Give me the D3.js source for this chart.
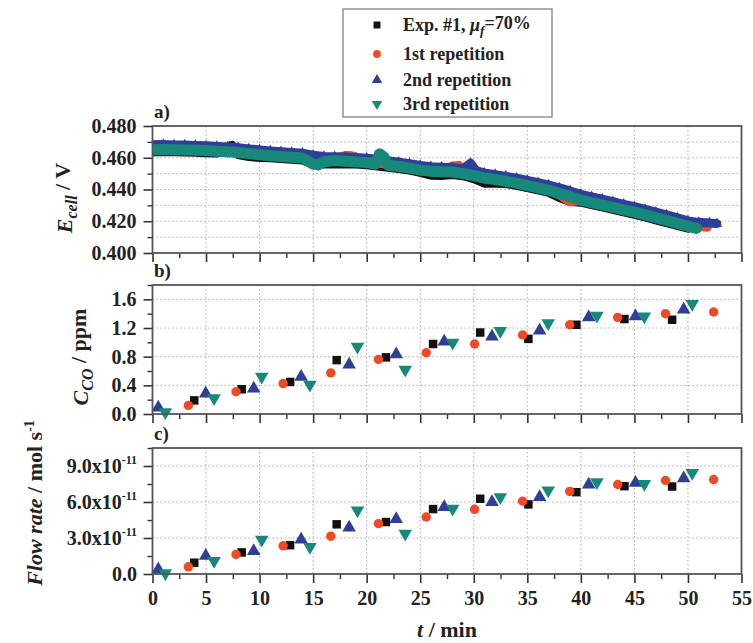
<!DOCTYPE html>
<html>
<head>
<meta charset="utf-8">
<script src="https://cdn.jsdelivr.net/npm/d3@7"></script>
<style>
  body { margin: 0; background: #fff; }
  svg text { font-family: "Liberation Serif", "Times New Roman", serif; font-weight: bold; fill: #222; }
</style>
</head>
<body>
<svg id="chart" width="753" height="643"></svg>
<script>
// ---- Panel a: cell voltage (V) vs time (min) ----
const eExpT  = [0,1,2,3,4,5,6,7,7.4,7.8,8,9,10,11,12,13,14,15,16,17,18,19,20,21,22,23,24,25,26,27,28,29,30,31,32,33,34,35,36,37,38,39,40,41,42,43,44,45,46,47,48,49,50];
const eExpV  = [.4637,.4639,.4638,.4636,.4634,.4632,.4630,.4645,.4678,.4640,.4620,.4608,.4602,.4600,.4595,.4590,.4585,.4560,.4560,.4560,.4562,.4560,.4556,.4548,.4540,.4532,.4522,.4508,.4490,.4488,.4494,.4487,.4468,.4440,.4440,.4438,.4426,.4412,.4397,.4382,.4350,.4325,.4320,.4305,.4290,.4275,.4259,.4244,.4227,.4209,.4192,.4174,.4156];
const eRep1T = [0,1,2,3,4,5,6,7,8,9,10,11,12,13,14,15,16,17,18,18.6,19,20,21,22,23,24,25,26,27,28,28.6,29,30,31,32,33,34,35,36,37,38,39,40,41,42,43,44,45,46,47,48,49,50,51,51.8];
const eRep1V = [.4655,.4656,.4654,.4652,.4650,.4648,.4645,.4641,.4636,.4630,.4623,.4617,.4612,.4607,.4602,.4595,.4590,.4595,.4614,.4612,.4582,.4575,.4566,.4558,.4550,.4540,.4528,.4520,.4518,.4548,.4552,.4510,.4490,.4476,.4465,.4454,.4442,.4428,.4413,.4398,.4365,.4322,.4330,.4318,.4303,.4288,.4273,.4258,.4241,.4224,.4207,.4190,.4175,.4168,.4162];
const eRep2T = [0,1,2,3,4,5,6,7,8,9,10,11,12,13,14,15,16,17,18,19,20,21,22,23,24,25,26,27,28,29,29.7,30.2,31,32,33,34,35,36,37,38,39,40,41,42,43,44,45,46,47,48,49,50,51,52,52.7];
const eRep2V = [.4682,.4683,.4681,.4680,.4677,.4675,.4671,.4668,.4663,.4656,.4649,.4643,.4638,.4633,.4628,.4616,.4608,.4607,.4604,.4601,.4597,.4591,.4582,.4572,.4562,.4551,.4543,.4540,.4537,.4530,.4566,.4520,.4503,.4494,.4483,.4471,.4457,.4443,.4428,.4410,.4391,.4370,.4354,.4339,.4323,.4307,.4292,.4275,.4257,.4240,.4221,.4202,.4193,.4189,.4185];
const eRep3T = [0,1,2,3,4,5,6,7,8,9,10,11,12,13,14,15,15.5,16,17,18,19,20,20.8,21.2,21.6,22,23,24,25,26,27,28,29,30,31,32,33,34,35,36,37,38,39,40,41,42,43,44,45,46,47,48,49,50,50.8];
const eRep3V = [.4650,.4652,.4650,.4649,.4647,.4645,.4641,.4638,.4633,.4626,.4619,.4613,.4608,.4603,.4598,.4560,.4555,.4575,.4583,.4578,.4574,.4570,.4560,.4625,.4605,.4553,.4545,.4535,.4522,.4515,.4512,.4510,.4500,.4487,.4472,.4463,.4452,.4440,.4425,.4410,.4395,.4375,.4355,.4333,.4318,.4303,.4288,.4272,.4257,.4240,.4222,.4205,.4187,.4168,.4155];

// ---- Panels b and c: CO concentration (ppm) and CO flow rate (x1e-11 mol/s) ----
const tExp  = [3.9, 8.33, 12.85, 17.2, 21.8, 26.2, 30.6, 35.1, 39.58, 44.07, 48.52];
const cExp  = [0.19, 0.345, 0.447, 0.752, 0.79, 0.977, 1.137, 1.048, 1.245, 1.325, 1.315];
const fExp  = [0.94, 1.80, 2.40, 4.14, 4.33, 5.41, 6.27, 5.80, 6.82, 7.32, 7.29];

const tRep1 = [3.35, 7.8, 12.2, 16.65, 21.1, 25.56, 30.08, 34.56, 38.96, 43.44, 47.9, 52.4];
const cRep1 = [0.12, 0.31, 0.425, 0.574, 0.762, 0.855, 0.977, 1.104, 1.245, 1.348, 1.40, 1.423];
const fRep1 = [0.60, 1.63, 2.35, 3.15, 4.20, 4.75, 5.39, 6.07, 6.88, 7.46, 7.79, 7.87];

const tRep2 = [0.54, 4.97, 9.45, 13.88, 18.36, 22.76, 27.24, 31.7, 36.15, 40.73, 45.1, 49.6];
const cRep2 = [0.09, 0.284, 0.354, 0.518, 0.69, 0.833, 1.01, 1.08, 1.165, 1.348, 1.362, 1.456];
const fRep2 = [0.39, 1.52, 1.91, 2.87, 3.87, 4.58, 5.58, 5.99, 6.41, 7.46, 7.60, 7.98];

const tRep3 = [1.2, 5.75, 10.2, 14.7, 19.14, 23.6, 28.03, 32.48, 36.95, 41.5, 45.93, 50.4];
const cRep3 = [0.025, 0.22, 0.52, 0.41, 0.94, 0.62, 0.996, 1.16, 1.268, 1.371, 1.362, 1.536];
const fRep3 = [0.06, 1.10, 2.87, 2.26, 5.30, 3.37, 5.44, 6.41, 6.96, 7.65, 7.51, 8.43];

// ---- Axis ticks ----
const xTicks   = [0, 5, 10, 15, 20, 25, 30, 35, 40, 45, 50, 55];
const aTicks   = [0.400, 0.420, 0.440, 0.460, 0.480];
const aGrid    = [0.410, 0.420, 0.430, 0.440, 0.450, 0.460, 0.470];
const bTicks   = [0.0, 0.4, 0.8, 1.2, 1.6];
const cTicks   = [0, 3, 6, 9];
const cTickLabels = ["0.0", "3.0x10", "6.0x10", "9.0x10"];

// ---- Series styling ----
const series = [
  { key: "exp",  color: "#111111", sym: "square",   bw: 9,  tA: eExpT,  vA: eExpV,  t: tExp,  c: cExp,  f: fExp },
  { key: "rep1", color: "#f04a25", sym: "circle",   bw: 9,  tA: eRep1T, vA: eRep1V, t: tRep1, c: cRep1, f: fRep1 },
  { key: "rep2", color: "#2f3f97", sym: "triangle", bw: 9,  tA: eRep2T, vA: eRep2V, t: tRep2, c: cRep2, f: fRep2 },
  { key: "rep3", color: "#16897b", sym: "down",     bw: 11, tA: eRep3T, vA: eRep3V, t: tRep3, c: cRep3, f: fRep3 }
];

const svg = d3.select("#chart");
const x = d3.scaleLinear().domain([0, 55]).range([152.5, 741.5]);

const panels = [
  { id: "a", label: "a)", top: 126, bottom: 253, domain: [0.400, 0.480] },
  { id: "b", label: "b)", top: 285, bottom: 414, domain: [0, 1.8] },
  { id: "c", label: "c)", top: 448, bottom: 574, domain: [0, 10.5] }
];
panels.forEach(p => { p.y = d3.scaleLinear().domain(p.domain).range([p.bottom, p.top]); });
const [pa, pb, pc] = panels;

function symbolPath(kind, size) {
  if (kind === "square") return d3.symbol(d3.symbolSquare, size)();
  if (kind === "circle") return d3.symbol(d3.symbolCircle, size)();
  return d3.symbol(d3.symbolTriangle, size)();
}
function symTransform(kind, px, py) {
  return kind === "down" ? `translate(${px},${py}) rotate(180)` : `translate(${px},${py})`;
}
const symSize = { square: 72, circle: 70, triangle: 80, down: 80 };

// ---- Frames, grids and axes ----
const xMinor = d3.range(2.5, 55, 5);

panels.forEach(p => {
  const g = svg.append("g");
  // vertical grid
  g.selectAll(".vg").data(xTicks.filter(d => d > 0 && d < 55)).join("line")
    .attr("x1", d => x(d)).attr("x2", d => x(d))
    .attr("y1", p.top).attr("y2", p.bottom)
    .attr("stroke", "#a8a8a8").attr("stroke-width", 1).attr("stroke-dasharray", "1.5,2.5");
  // horizontal grid
  const hg = p.id === "a" ? aGrid : (p.id === "b" ? bTicks.filter(d => d > 0) : cTicks.filter(d => d > 0));
  g.selectAll(".hg").data(hg).join("line")
    .attr("x1", x(0)).attr("x2", x(55))
    .attr("y1", d => p.y(d)).attr("y2", d => p.y(d))
    .attr("stroke", "#a8a8a8").attr("stroke-width", 1).attr("stroke-dasharray", "1.5,2.5");

  // bottom axis (ticks outward)
  const xAxis = d3.axisBottom(x).tickValues(xTicks).tickSize(9).tickFormat(p.id === "c" ? d3.format("d") : () => "");
  const xa = svg.append("g").attr("class", "xaxis").attr("transform", `translate(0,${p.bottom})`).call(xAxis);
  xa.selectAll("line").attr("stroke", "#333").attr("stroke-width", 1.6);
  xa.select(".domain").remove();
  xa.selectAll("text").attr("font-size", 20).attr("dy", "0.95em").attr("fill", "#222");
  svg.append("g").attr("transform", `translate(0,${p.bottom})`)
    .call(d3.axisBottom(x).tickValues(xMinor).tickSize(5).tickFormat(() => ""))
    .call(s => s.select(".domain").remove())
    .selectAll("line").attr("stroke", "#333").attr("stroke-width", 1.4);

  // left axis
  let ticks, fmt, minor;
  if (p.id === "a") { ticks = aTicks; fmt = d3.format(".3f"); minor = aGrid.filter(d => !aTicks.includes(d)); }
  if (p.id === "b") { ticks = bTicks; fmt = d3.format(".1f"); minor = [0.2, 0.6, 1.0, 1.4, 1.8]; }
  if (p.id === "c") { ticks = cTicks; fmt = () => ""; minor = [1.5, 4.5, 7.5, 10.5]; }
  const ya = svg.append("g").attr("transform", `translate(${x(0)},0)`)
    .call(d3.axisLeft(p.y).tickValues(ticks).tickSize(9).tickPadding(7).tickFormat(fmt));
  ya.select(".domain").remove();
  ya.selectAll("line").attr("stroke", "#333").attr("stroke-width", 1.6);
  ya.selectAll("text").attr("font-size", 20).attr("fill", "#222");
  svg.append("g").attr("transform", `translate(${x(0)},0)`)
    .call(d3.axisLeft(p.y).tickValues(minor).tickSize(5).tickFormat(() => ""))
    .call(s => s.select(".domain").remove())
    .selectAll("line").attr("stroke", "#333").attr("stroke-width", 1.4);

  if (p.id === "c") {
    const lab = svg.append("g").selectAll("text").data(cTicks).join("text")
      .attr("x", 137).attr("y", d => p.y(d)).attr("dy", "0.33em")
      .attr("text-anchor", "end").attr("font-size", 20);
    lab.each(function (d, i) {
      const t = d3.select(this);
      t.append("tspan").text(cTickLabels[i]);
      if (i > 0) t.append("tspan").attr("font-size", 12).attr("dy", "-0.75em").text("-11");
    });
  }

  // panel label
  svg.append("text").attr("x", 154).attr("y", p.top - 8).attr("font-size", 19).text(p.label);

  p.g = svg.append("g");
});

// ---- Panel a: dense voltage traces ----
svg.append("clipPath").attr("id", "clipA").append("rect")
  .attr("x", x(0)).attr("y", pa.top).attr("width", x(55) - x(0)).attr("height", pa.bottom - pa.top);
const gA = svg.append("g").attr("clip-path", "url(#clipA)");
series.forEach(s => {
  const pts = s.tA.map((t, i) => [t, s.vA[i]]);
  gA.append("path").datum(pts)
    .attr("d", d3.line().x(d => x(d[0])).y(d => pa.y(d[1])))
    .attr("fill", "none").attr("stroke", s.color).attr("stroke-width", s.bw)
    .attr("stroke-linejoin", "round").attr("stroke-linecap", "round");
  gA.selectAll(null).data(pts).join("path")
    .attr("d", symbolPath(s.sym, 50))
    .attr("transform", d => symTransform(s.sym, x(d[0]), pa.y(d[1])))
    .attr("fill", s.color);
});

// ---- Panels b and c: scatter ----
function drawScatter(p, key) {
  series.forEach(s => {
    p.g.selectAll(null).data(s.t.map((t, i) => [t, s[key][i]])).join("path")
      .attr("d", symbolPath(s.sym, symSize[s.sym]))
      .attr("transform", d => symTransform(s.sym, x(d[0]), p.y(d[1])))
      .attr("fill", s.color);
  });
}
drawScatter(pb, "c");
drawScatter(pc, "f");

// ---- Frames on top ----
panels.forEach(p => {
  svg.append("rect").attr("x", x(0)).attr("y", p.top)
    .attr("width", x(55) - x(0)).attr("height", p.bottom - p.top)
    .attr("fill", "none").attr("stroke", "#555").attr("stroke-width", 1.8);
});

// ---- Axis titles ----
const ta = svg.append("text").attr("transform", "translate(72,198) rotate(-90)")
  .attr("text-anchor", "middle").attr("font-size", 22);
ta.append("tspan").attr("font-style", "italic").text("E");
ta.append("tspan").attr("font-style", "italic").attr("font-size", 16).attr("dy", "0.3em").text("cell");
ta.append("tspan").attr("dy", "-0.3em").text(" / V");

const tb = svg.append("text").attr("transform", "translate(88,357) rotate(-90)")
  .attr("text-anchor", "middle").attr("font-size", 22);
tb.append("tspan").attr("font-style", "italic").text("C");
tb.append("tspan").attr("font-style", "italic").attr("font-size", 16).attr("dy", "0.3em").text("CO");
tb.append("tspan").attr("dy", "-0.3em").text(" / ppm");

const tc = svg.append("text").attr("transform", "translate(42,503) rotate(-90)")
  .attr("text-anchor", "middle").attr("font-size", 22);
tc.append("tspan").attr("font-style", "italic").text("Flow rate");
tc.append("tspan").text(" / mol s");
tc.append("tspan").attr("font-size", 14).attr("dy", "-0.6em").text("-1");

const tx = svg.append("text").attr("x", 447).attr("y", 637).attr("text-anchor", "middle").attr("font-size", 22);
tx.append("tspan").attr("font-style", "italic").text("t");
tx.append("tspan").text(" / min");

// ---- Legend ----
const lg = svg.append("g");
lg.append("rect").attr("x", 343).attr("y", 9).attr("width", 209).attr("height", 108)
  .attr("fill", "#fff").attr("stroke", "#777").attr("stroke-width", 1.2);
const rowY = [25, 54, 80, 104];
series.forEach((s, i) => {
  lg.append("path").attr("d", symbolPath(s.sym, 48))
    .attr("transform", symTransform(s.sym, 377, rowY[i])).attr("fill", s.color);
});
const l0 = lg.append("text").attr("x", 403).attr("y", rowY[0]).attr("dy", "0.33em").attr("font-size", 18);
l0.append("tspan").text("Exp. #1, ");
l0.append("tspan").attr("font-style", "italic").text("μ");
l0.append("tspan").attr("font-style", "italic").attr("font-size", 13).attr("dy", "0.3em").text("f");
l0.append("tspan").attr("dy", "-0.3em").text("=70%");
["1st repetition", "2nd repetition", "3rd repetition"].forEach((t, i) => {
  lg.append("text").attr("x", 403).attr("y", rowY[i + 1]).attr("dy", "0.33em").attr("font-size", 18).text(t);
});
</script>
</body>
</html>
